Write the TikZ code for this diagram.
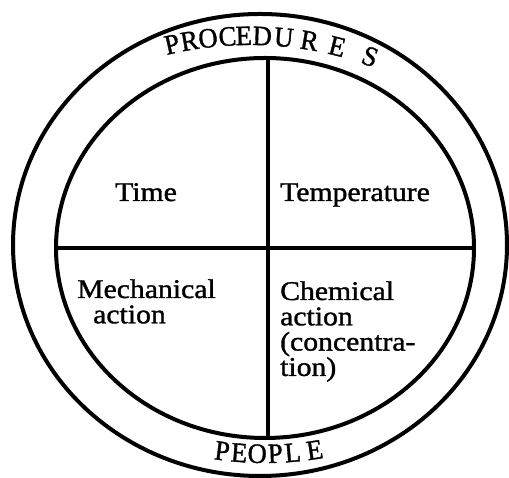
\documentclass[tikz,border=0pt]{standalone}
\usepackage{fontspec}
\setmainfont{Liberation Serif}
\newfontfamily\bodyfont{Liberation Serif}[FakeStretch=1.1, FakeBold=1.3]
\newfontfamily\capsfont{Liberation Serif}[FakeStretch=0.95, FakeBold=1.3]
\usetikzlibrary{shapes.geometric}
\begin{document}
\begin{tikzpicture}[x=1pt,y=1pt,
  ring/.style={ellipse, draw, line width=4pt, inner sep=0pt, outer sep=0pt},
  bar/.style={line width=4.5pt},
  body/.style={inner sep=0pt, anchor=base west, font=\bodyfont\fontsize{27}{25.3}\selectfont},
  caps/.style={inner sep=0pt, anchor=base, font=\capsfont\fontsize{28}{30}\selectfont}]
\useasboundingbox (0,0) rectangle (509,478);
\node[ring, minimum width=494pt, minimum height=462pt] (outer) at (260,233) {};
\node[ring, minimum width=418pt, minimum height=380pt] (inner) at (265,230) {};
\draw[bar] ([xshift=3pt]inner.north) -- ([xshift=3pt]inner.south);
\draw[bar] (inner.west) -- (inner.east);
% PROCEDURES along the top
\foreach \ch/\px [count=\i] in {P/174,R/191,O/209,C/228,E/244,D/262,U/283,R/308,E/335,S/367}{
  \pgfmathsetmacro\t{acos((\px-250)/270)}
  \pgfmathsetmacro\by{229+204*sin(\t)}
  \pgfmathsetmacro\rot{atan2(-204*cos(\t),270*sin(\t))}
  \node[caps, rotate=\rot] (proc\i) at (\px,\by) {\ch};
}
% PEOPLE along the bottom
\foreach \ch/\px [count=\i] in {P/221,E/238.5,O/257,P/275.5,L/293.5,E/316}{
  \pgfmathsetmacro\t{360-acos((\px-265)/270)}
  \pgfmathsetmacro\by{230+215*sin(\t)}
  \pgfmathsetmacro\rot{atan2(215*cos(\t),-270*sin(\t))}
  \node[caps, rotate=\rot] (ppl\i) at (\px,\by) {\ch};
}
\node[body] (time) at (115,277) {Time};
\node[body] (temp) at (280,277) {Temperature};
\node[body] (mech) at (77,180) {\vtop{\hbox{Mechanical}\hbox{\hspace*{16pt}action}}};
\node[body] (chem) at (280,178) {\vtop{\hbox{Chemical}\hbox{action}\hbox{(concentra-}\hbox{tion)}}};
\end{tikzpicture}
\end{document}
